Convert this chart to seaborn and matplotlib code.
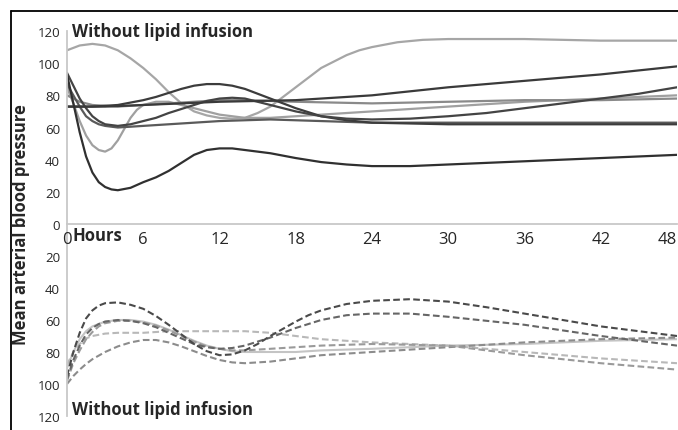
import matplotlib
matplotlib.use("Agg")
import matplotlib.pyplot as plt
from matplotlib.lines import Line2D
import seaborn as sns

sns.set_style("white")
plt.rcParams['font.family'] = ['Open Sans', 'DejaVu Sans']

# ---------------- data ----------------
hours_ticks = [0, 6, 12, 18, 24, 30, 36, 42, 48]
y_ticks_top = [0, 20, 40, 60, 80, 100, 120]
y_ticks_bottom = [20, 40, 60, 80, 100, 120]

# Top panel (solid lines)
top_A_t = [0, 1, 2, 3, 4, 5, 6, 7, 8, 9, 10, 11, 12, 13, 14, 15, 16, 17, 18, 19, 20, 21, 22, 23, 24, 26, 28, 30, 36, 42, 48]
top_A_v = [108, 111, 112, 111, 108, 103, 97, 90, 82, 75, 70, 67.5, 66, 65.5, 66, 69, 73, 79, 85, 91, 97, 101, 105, 108, 110, 113, 114.5, 115, 115, 114, 114]
top_B_t = [0, 0.5, 1, 1.5, 2, 2.5, 3, 3.5, 4, 4.5, 5, 5.5, 6, 7, 8, 9, 10, 11, 12, 14, 16, 18, 24, 30, 36, 42, 48]
top_B_v = [85, 75, 64, 55, 49, 46, 45, 47, 52, 59, 66, 71, 74, 76, 76, 74, 72, 70, 68, 66, 66, 67, 70, 73, 76, 78, 80]
top_C_t = [0, 0.5, 1, 1.5, 2, 2.5, 3, 3.5, 4, 5, 6, 7, 8, 9, 10, 11, 12, 13, 14, 16, 18, 20, 22, 24, 27, 30, 36, 42, 48]
top_C_v = [93, 75, 57, 42, 32, 26, 23, 21.5, 21, 22.5, 26, 29, 33, 38, 43, 46, 47, 47, 46, 44, 41, 38.5, 37, 36, 36, 37, 39, 41, 43]
top_D_t = [0, 2, 3, 4, 5, 6, 7, 8, 9, 10, 11, 12, 13, 14, 15, 16, 17, 18, 19, 20, 22, 24, 27, 30, 36, 42, 48]
top_D_v = [73, 73, 73.5, 74, 75.5, 77, 79, 81.5, 84, 86, 87, 87, 86, 84, 81, 78, 75, 72, 69.5, 67, 64.5, 63, 62.5, 62, 62, 62, 62]
top_E_t = [0, 0.5, 1, 1.5, 2, 2.5, 3, 4, 5, 6, 8, 10, 12, 16, 20, 24, 30, 36, 42, 48]
top_E_v = [87, 80, 73, 67, 64, 62, 61, 60, 60.5, 61, 62, 63, 64, 65, 64, 63, 63, 63, 63, 63]
top_F_t = [0, 0.5, 1, 1.5, 2, 2.5, 3, 4, 5, 6, 7, 8, 9, 10, 11, 12, 13, 14, 15, 16, 17, 18, 20, 22, 24, 27, 30, 33, 36, 39, 42, 45, 48]
top_F_v = [94, 86, 78, 72, 67, 64, 62, 61, 62, 64, 66, 69, 71.5, 74, 76.5, 78, 78.5, 78, 76, 74, 72, 70, 67, 65.5, 65, 65.5, 67, 69, 72, 75, 78, 81, 85]
top_G_t = [0, 3, 6, 12, 18, 24, 30, 36, 42, 48]
top_G_v = [73, 73, 74, 76, 77, 80, 85, 89, 93, 98]
top_H_t = [0, 1, 2, 4, 6, 8, 10, 12, 14, 18, 24, 30, 36, 42, 48]
top_H_v = [80, 76, 74, 73, 74, 75, 76, 77, 77, 76, 75, 76, 77, 77, 78]

# Bottom panel (mostly dashed lines, inverted axis)
bot_P_t = [0, 0.5, 1, 1.5, 2, 2.5, 3, 4, 5, 6, 7, 8, 9, 10, 11, 12, 13, 14, 15, 16, 17, 18, 19, 20, 22, 24, 27, 30, 33, 36, 39, 42, 45, 48]
bot_P_v = [95, 80, 68, 59, 54, 51, 49.5, 49, 50.5, 53, 57.5, 63, 69, 75, 79.5, 82, 81.5, 79, 75, 70, 65.5, 61, 57, 54, 50, 48, 47, 48.5, 52, 56, 60, 64, 67, 70]
bot_Q_t = [0, 0.5, 1, 1.5, 2, 2.5, 3, 4, 5, 6, 7, 8, 9, 10, 11, 12, 13, 14, 15, 16, 17, 18, 19, 20, 22, 24, 27, 30, 33, 36, 39, 42, 45, 48]
bot_Q_v = [97, 85, 76, 69, 65, 62.5, 61, 60, 60.5, 62, 64.5, 68, 71.5, 75, 77, 78, 77.5, 76, 73.5, 71, 68, 65, 62.5, 60, 57, 56, 56, 58, 60.5, 63, 66.5, 70, 73, 76]
bot_R_t = [0, 0.5, 1, 1.5, 2, 3, 4, 6, 8, 10, 12, 14, 16, 18, 20, 24, 30, 36, 42, 48]
bot_R_v = [88, 80, 75, 71.5, 70, 68.5, 68, 68, 67, 67, 67, 67, 68, 70, 72, 74, 76, 80, 84, 87]
bot_S_t = [0, 0.5, 1, 1.5, 2, 3, 4, 5, 6, 7, 8, 9, 10, 11, 12, 13, 14, 16, 18, 20, 24, 30, 36, 42, 48]
bot_S_v = [100, 95, 91, 87.5, 84.5, 80, 76.5, 74, 72.5, 72.5, 74, 76.5, 79.5, 82.5, 85, 86.5, 87, 86, 84, 82, 80, 77, 74, 72, 71]
bot_T_t = [0, 0.5, 1, 1.5, 2, 2.5, 3, 4, 5, 6, 7, 8, 9, 10, 11, 12, 13, 14, 16, 18, 20, 24, 30, 33, 36, 39, 42, 45, 48]
bot_T_v = [98, 87, 79, 72, 67.5, 64, 62, 60.5, 60.5, 61.5, 63.5, 66.5, 70, 73.5, 76.5, 78, 79, 79, 78, 77, 76, 75, 76, 79, 82, 84.5, 87, 89, 91]
bot_U_t = [0, 0.5, 1, 1.5, 2, 3, 4, 5, 6, 7, 8, 9, 10, 11, 12, 13, 14, 16, 18, 20, 24, 30, 36, 42, 48]
bot_U_v = [90, 80, 72, 67, 64, 61, 60, 60, 61, 63, 66, 69.5, 73, 76, 78, 79.5, 80, 80, 80, 79, 78, 76, 75, 73, 72]

top_series = [
    (top_A_t, top_A_v, "#a6a6a6"),
    (top_B_t, top_B_v, "#a0a0a0"),
    (top_H_t, top_H_v, "#8a8a8a"),
    (top_E_t, top_E_v, "#5a5a5a"),
    (top_D_t, top_D_v, "#3c3c3c"),
    (top_F_t, top_F_v, "#444444"),
    (top_G_t, top_G_v, "#3a3a3a"),
    (top_C_t, top_C_v, "#303030"),
]
bottom_series = [
    (bot_U_t, bot_U_v, "#c4c4c4", "-"),
    (bot_R_t, bot_R_v, "#b8b8b8", "--"),
    (bot_S_t, bot_S_v, "#8c8c8c", "--"),
    (bot_T_t, bot_T_v, "#9a9a9a", "--"),
    (bot_Q_t, bot_Q_v, "#666666", "--"),
    (bot_P_t, bot_P_v, "#4a4a4a", "--"),
]

# ---------------- figure ----------------
W, H = 678, 431
fig = plt.figure(figsize=(W / 100, H / 100), dpi=100)
fig.patch.set_facecolor("white")

x0 = 67 / W
x1 = 677 / W
y_top = 1 - 32 / H
y_mid = 1 - 225 / H
y_bot = 1 - 417 / H

ax_b = fig.add_axes([x0, y_bot, x1 - x0, y_mid - y_bot])
ax_t = fig.add_axes([x0, y_mid, x1 - x0, y_top - y_mid])
ax_t.patch.set_alpha(0)
ax_b.patch.set_alpha(0)

spine_col = "#c8c8c8"

for t, v, c in top_series:
    sns.lineplot(x=t, y=v, ax=ax_t, color=c, linewidth=1.6)
for t, v, c, ls in bottom_series:
    sns.lineplot(x=t, y=v, ax=ax_b, color=c, linewidth=1.5,
                 linestyle=(0, (3.2, 1.6)) if ls == "--" else "-")

# top axes
ax_t.set_xlim(0, 48)
ax_t.set_ylim(0, 120)
ax_t.set_xticks(hours_ticks)
ax_t.set_xticklabels([str(h) for h in hours_ticks], fontsize=12)
# keep the last label inside the figure
ax_t.get_xticklabels()[-1].set_horizontalalignment("right")
ax_t.set_yticks(y_ticks_top)
ax_t.set_yticklabels([str(v) for v in y_ticks_top], fontsize=9.5)
ax_t.tick_params(axis="x", direction="in", length=5, color=spine_col, pad=5)
ax_t.tick_params(axis="y", direction="out", length=3, color=spine_col, pad=2)
for s in ["top", "right"]:
    ax_t.spines[s].set_visible(False)
for s in ["left", "bottom"]:
    ax_t.spines[s].set_color(spine_col)
    ax_t.spines[s].set_linewidth(1.3)
ax_t.set_xlabel("")
ax_t.set_ylabel("")

# bottom axes
ax_b.set_xlim(0, 48)
ax_b.set_ylim(120, 0)
ax_b.set_xticks([])
ax_b.set_yticks(y_ticks_bottom)
ax_b.set_yticklabels([str(v) for v in y_ticks_bottom], fontsize=9.5)
ax_b.tick_params(axis="y", direction="out", length=3, color=spine_col, pad=2)
for s in ["top", "right", "bottom"]:
    ax_b.spines[s].set_visible(False)
ax_b.spines["left"].set_color(spine_col)
ax_b.spines["left"].set_linewidth(1.3)
ax_b.set_xlabel("")
ax_b.set_ylabel("")

# texts
fig.text(72 / W, 1 - 32 / H, "Without lipid infusion", fontsize=12,
         fontweight="bold", ha="left", va="center")
fig.text(72 / W, 1 - 410 / H, "Without lipid infusion", fontsize=12,
         fontweight="bold", ha="left", va="center")
fig.text(73 / W, 1 - 236 / H, "Hours", fontsize=12, fontweight="bold",
         ha="left", va="center")
fig.text(21 / W, 1 - 225 / H, "Mean arterial blood pressure", fontsize=12,
         fontweight="bold", rotation=90, ha="center", va="center")

# frame (top and left)
fig.add_artist(Line2D([11 / W, 1], [1 - 12 / H, 1 - 12 / H], color="black",
                      linewidth=1.3, transform=fig.transFigure))
fig.add_artist(Line2D([11 / W, 11 / W], [0, 1 - 12 / H], color="black",
                      linewidth=1.3, transform=fig.transFigure))

fig.savefig("out.png", dpi=100, facecolor="white")
